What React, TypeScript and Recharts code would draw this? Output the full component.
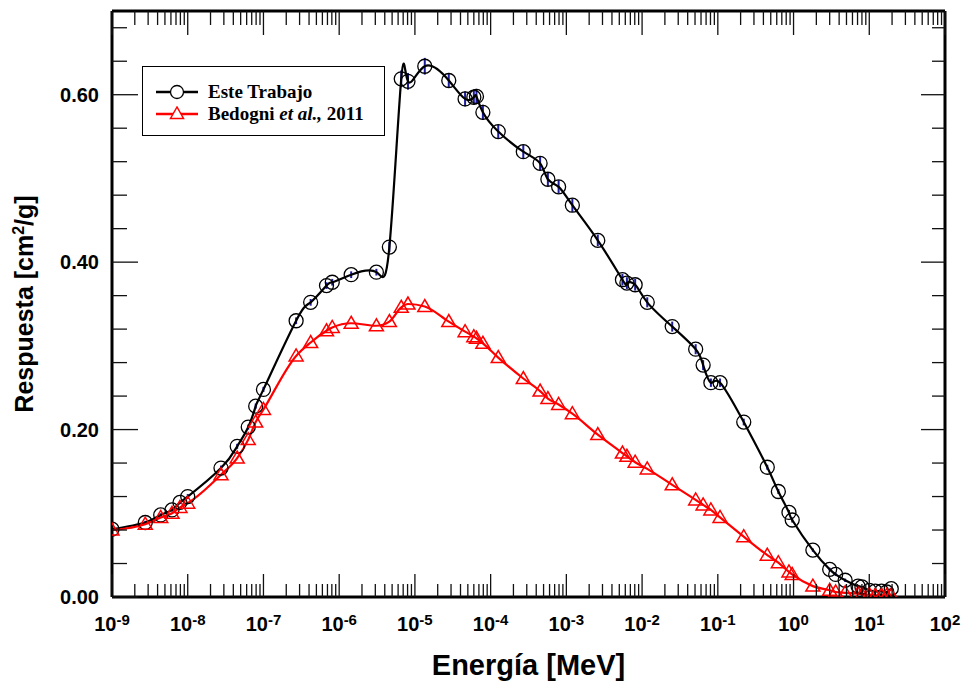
import React from "react";
import {
  LineChart,
  Line,
  XAxis,
  YAxis,
  Legend,
  Label,
  ErrorBar,
} from "recharts";

// energía en MeV (misma malla para ambas series)
const energies = [
  1e-9, 2.75e-9, 4.4e-9, 6.2e-9, 7.9e-9, 1e-8, 2.75e-8, 4.5e-8, 6.3e-8, 7.9e-8,
  1e-7, 2.7e-7, 4.2e-7, 6.8e-7, 8.1e-7, 1.44e-6, 3.1e-6, 4.6e-6, 6.6e-6, 8.1e-6,
  1.35e-5, 2.8e-5, 4.6e-5, 6.0e-5, 6.5e-5, 7.9e-5, 1.26e-4, 2.7e-4, 4.5e-4, 5.7e-4,
  7.9e-4, 1.2e-3, 2.6e-3, 5.5e-3, 6.3e-3, 8.1e-3, 1.17e-2, 2.5e-2, 5.1e-2, 6.4e-2,
  8.1e-2, 0.107, 0.22, 0.45, 0.63, 0.87, 0.96, 1.8, 3.0, 3.6,
  4.8, 7.1, 8.0, 10, 12, 14.5, 17, 19.5,
];

const esteTrabajo = [
  0.081, 0.089, 0.098, 0.104, 0.113, 0.12, 0.154, 0.18, 0.203, 0.228,
  0.248, 0.33, 0.352, 0.372, 0.376, 0.385, 0.388, 0.418, 0.619, 0.616,
  0.634, 0.617, 0.595, 0.597, 0.598, 0.579, 0.556, 0.532, 0.518, 0.499,
  0.49, 0.468, 0.426, 0.379, 0.375, 0.373, 0.352, 0.323, 0.296, 0.277,
  0.256, 0.256, 0.209, 0.155, 0.126, 0.101, 0.092, 0.056, 0.033, 0.027,
  0.02, 0.013, 0.012, 0.008, 0.007, 0.007, 0.006, 0.01,
];

const esteError = [
  0.002, 0.002, 0.002, 0.002, 0.002, 0.003, 0.003, 0.003, 0.003, 0.003,
  0.003, 0.004, 0.004, 0.004, 0.004, 0.004, 0.004, 0.006, 0.01, 0.01,
  0.01, 0.009, 0.009, 0.009, 0.009, 0.009, 0.008, 0.008, 0.008, 0.008,
  0.008, 0.008, 0.007, 0.007, 0.007, 0.007, 0.006, 0.006, 0.006, 0.006,
  0.005, 0.005, 0.004, 0.003, 0.003, 0.003, 0.003, 0.002, 0.002, 0.002,
  0.002, 0.001, 0.001, 0.001, 0.001, 0.001, 0.001, 0.001,
];

const bedogni = [
  0.08, 0.087, 0.095, 0.1, 0.107, 0.112, 0.146, 0.166, 0.188, 0.209,
  0.224, 0.288, 0.304, 0.318, 0.322, 0.327, 0.324, 0.329, 0.346, 0.35,
  0.347, 0.329, 0.317, 0.311, 0.309, 0.303, 0.286, 0.261, 0.246, 0.237,
  0.23, 0.219, 0.194, 0.172, 0.168, 0.161, 0.153, 0.134, 0.116, 0.11,
  0.104, 0.095, 0.072, 0.05, 0.041, 0.03, 0.027, 0.013, 0.008, 0.006,
  0.005, 0.004, 0.003, 0.003, 0.002, 0.002, 0.002, 0.002,
];

const xTicks = [
  1e-9, 2e-9, 3e-9, 4e-9, 5e-9, 6e-9, 7e-9, 8e-9, 9e-9,
  1e-8, 2e-8, 3e-8, 4e-8, 5e-8, 6e-8, 7e-8, 8e-8, 9e-8,
  1e-7, 2e-7, 3e-7, 4e-7, 5e-7, 6e-7, 7e-7, 8e-7, 9e-7,
  1e-6, 2e-6, 3e-6, 4e-6, 5e-6, 6e-6, 7e-6, 8e-6, 9e-6,
  1e-5, 2e-5, 3e-5, 4e-5, 5e-5, 6e-5, 7e-5, 8e-5, 9e-5,
  1e-4, 2e-4, 3e-4, 4e-4, 5e-4, 6e-4, 7e-4, 8e-4, 9e-4,
  1e-3, 2e-3, 3e-3, 4e-3, 5e-3, 6e-3, 7e-3, 8e-3, 9e-3,
  1e-2, 2e-2, 3e-2, 4e-2, 5e-2, 6e-2, 7e-2, 8e-2, 9e-2,
  0.1, 0.2, 0.3, 0.4, 0.5, 0.6, 0.7, 0.8, 0.9,
  1, 2, 3, 4, 5, 6, 7, 8, 9,
  10, 20, 30, 40, 50, 60, 70, 80, 90,
  100,
];

const yTicks = [
  0, 0.04, 0.08, 0.12, 0.16, 0.2, 0.24, 0.28, 0.32, 0.36,
  0.4, 0.44, 0.48, 0.52, 0.56, 0.6, 0.64, 0.68,
];
const yMajor = [0, 0.2, 0.4, 0.6];

const data = energies.map((e, i) => ({
  e,
  este: esteTrabajo[i],
  esteErr: esteError[i],
  bedogni: bedogni[i],
}));

const SANS = "'Liberation Sans', Arial, sans-serif";
const SERIF = "'Liberation Serif', 'Times New Roman', serif";

function isDecade(v: number) {
  const l = Math.log10(v);
  return Math.abs(l - Math.round(l)) < 1e-6;
}

function BottomTick(props: any) {
  const { x, y, payload } = props;
  const v = payload.value;
  const major = isDecade(v);
  const exp = Math.round(Math.log10(v));
  return (
    <g>
      <line x1={x} x2={x} y1={y} y2={y - (major ? 23 : 13)} stroke="#111" strokeWidth={1.3} />
      {major && (
        <text
          x={x}
          y={y + 34}
          textAnchor="middle"
          fontFamily={SANS}
          fontWeight="bold"
          fontSize={20}
          fill="#000"
        >
          10
          <tspan dy={-6} fontSize={15}>
            {exp}
          </tspan>
        </text>
      )}
    </g>
  );
}

function TopTick(props: any) {
  const { x, y, payload } = props;
  const major = isDecade(payload.value);
  return <line x1={x} x2={x} y1={y} y2={y + (major ? 24 : 14)} stroke="#111" strokeWidth={1.3} />;
}

function LeftTick(props: any) {
  const { x, y, payload } = props;
  const major = yMajor.some((m) => Math.abs(m - payload.value) < 1e-9);
  return (
    <g>
      <line x1={x} x2={x + (major ? 26 : 15)} y1={y} y2={y} stroke="#111" strokeWidth={1.3} />
      {major && (
        <text
          x={x - 13}
          y={y + 7}
          textAnchor="end"
          fontFamily={SANS}
          fontWeight="bold"
          fontSize={20}
          fill="#000"
        >
          {payload.value.toFixed(2)}
        </text>
      )}
    </g>
  );
}

function RightTick(props: any) {
  const { x, y, payload } = props;
  const major = yMajor.some((m) => Math.abs(m - payload.value) < 1e-9);
  return <line x1={x} x2={x - (major ? 24 : 13)} y1={y} y2={y} stroke="#111" strokeWidth={1.3} />;
}

function CircleDot(props: any) {
  const { cx, cy, index } = props;
  if (cx == null || cy == null) return <g key={index} />;
  return <circle key={index} cx={cx} cy={cy} r={7} fill="none" stroke="#000" strokeWidth={1.3} />;
}

function TriangleDot(props: any) {
  const { cx, cy, index } = props;
  if (cx == null || cy == null) return <g key={index} />;
  return (
    <path
      key={index}
      d={`M${cx},${cy - 7}L${cx - 7},${cy + 5}L${cx + 7},${cy + 5}Z`}
      fill="none"
      stroke="#ff0000"
      strokeWidth={1.5}
    />
  );
}

function LegendBox() {
  const row = (color: string, marker: React.ReactNode, label: React.ReactNode) => (
    <div style={{ display: "flex", alignItems: "center", height: 22 }}>
      <svg width={42} height={16} style={{ marginRight: 10 }}>
        <line x1={0} x2={42} y1={8} y2={8} stroke={color} strokeWidth={2.5} />
        {marker}
      </svg>
      <span style={{ fontFamily: SERIF, fontWeight: "bold", fontSize: 19, color: "#000" }}>
        {label}
      </span>
    </div>
  );
  return (
    <div
      style={{
        width: 243,
        height: 70,
        boxSizing: "border-box",
        border: "1.5px solid #000",
        background: "#fff",
        padding: "14px 0 0 13px",
      }}
    >
      {row(
        "#000",
        <circle cx={21} cy={8} r={6.5} fill="#fff" stroke="#000" strokeWidth={1.3} />,
        "Este Trabajo"
      )}
      {row(
        "#ff0000",
        <path d="M21,1L14.5,12.5L27.5,12.5Z" fill="#fff" stroke="#ff0000" strokeWidth={1.5} />,
        <>
          Bedogni <i>et al.,</i> 2011
        </>
      )}
    </div>
  );
}

function YTitle(props: any) {
  const { viewBox } = props;
  const cx = viewBox.x + 21;
  const cy = viewBox.y + viewBox.height / 2;
  return (
    <text
      x={cx}
      y={cy}
      transform={`rotate(-90 ${cx} ${cy})`}
      textAnchor="middle"
      fontFamily={SANS}
      fontWeight="bold"
      fontSize={25}
      fill="#000"
    >
      Respuesta [cm
      <tspan dy={-9} fontSize={16}>
        2
      </tspan>
      <tspan dy={9}>/g]</tspan>
    </text>
  );
}

function XTitle(props: any) {
  const { viewBox } = props;
  return (
    <text
      x={viewBox.x + viewBox.width / 2}
      y={viewBox.y + 78}
      textAnchor="middle"
      fontFamily={SANS}
      fontWeight="bold"
      fontSize={29}
      fill="#000"
    >
      Energía [MeV]
    </text>
  );
}

export default function App() {
  return (
    <div style={{ position: "absolute", left: 0, top: 0, background: "#fff" }}>
      <LineChart
        width={964}
        height={684}
        data={data}
        margin={{ top: 10, right: 18, left: 12, bottom: 37 }}
      >
        <XAxis
          xAxisId="b"
          dataKey="e"
          type="number"
          scale="log"
          domain={[1e-9, 100]}
          allowDataOverflow
          ticks={xTicks}
          interval={0}
          tick={<BottomTick />}
          tickLine={false}
          tickSize={0}
          tickMargin={0}
          height={50}
          axisLine={{ stroke: "#000", strokeWidth: 3 }}
        >
          <Label content={<XTitle />} />
        </XAxis>
        <XAxis
          xAxisId="t"
          dataKey="e"
          orientation="top"
          type="number"
          scale="log"
          domain={[1e-9, 100]}
          allowDataOverflow
          ticks={xTicks}
          interval={0}
          tick={<TopTick />}
          tickLine={false}
          tickSize={0}
          tickMargin={0}
          height={1}
          axisLine={{ stroke: "#000", strokeWidth: 3 }}
        />
        <YAxis
          yAxisId="l"
          type="number"
          domain={[0, 0.7]}
          allowDataOverflow
          ticks={yTicks}
          interval={0}
          tick={<LeftTick />}
          tickLine={false}
          tickSize={0}
          tickMargin={0}
          width={100}
          axisLine={{ stroke: "#000", strokeWidth: 3 }}
        >
          <Label content={<YTitle />} />
        </YAxis>
        <YAxis
          yAxisId="r"
          orientation="right"
          type="number"
          domain={[0, 0.7]}
          allowDataOverflow
          ticks={yTicks}
          interval={0}
          tick={<RightTick />}
          tickLine={false}
          tickSize={0}
          tickMargin={0}
          width={1}
          axisLine={{ stroke: "#000", strokeWidth: 3 }}
        />
        <Legend
          layout="vertical"
          align="center"
          verticalAlign="middle"
          content={<LegendBox />}
          wrapperStyle={{ position: "absolute", left: 142, top: 66, width: 243, height: 70 }}
        />
        <Line
          xAxisId="b"
          yAxisId="l"
          type="natural"
          dataKey="este"
          name="Este Trabajo"
          stroke="#000"
          strokeWidth={2.2}
          dot={CircleDot}
          activeDot={false}
          isAnimationActive={false}
        >
          <ErrorBar
            dataKey="esteErr"
            direction="y"
            width={0}
            stroke="#1b1b9e"
            strokeWidth={2}
            isAnimationActive={false}
          />
        </Line>
        <Line
          xAxisId="b"
          yAxisId="l"
          type="monotone"
          dataKey="bedogni"
          name="Bedogni et al., 2011"
          stroke="#ff0000"
          strokeWidth={2.2}
          dot={TriangleDot}
          activeDot={false}
          isAnimationActive={false}
        />
      </LineChart>
    </div>
  );
}
